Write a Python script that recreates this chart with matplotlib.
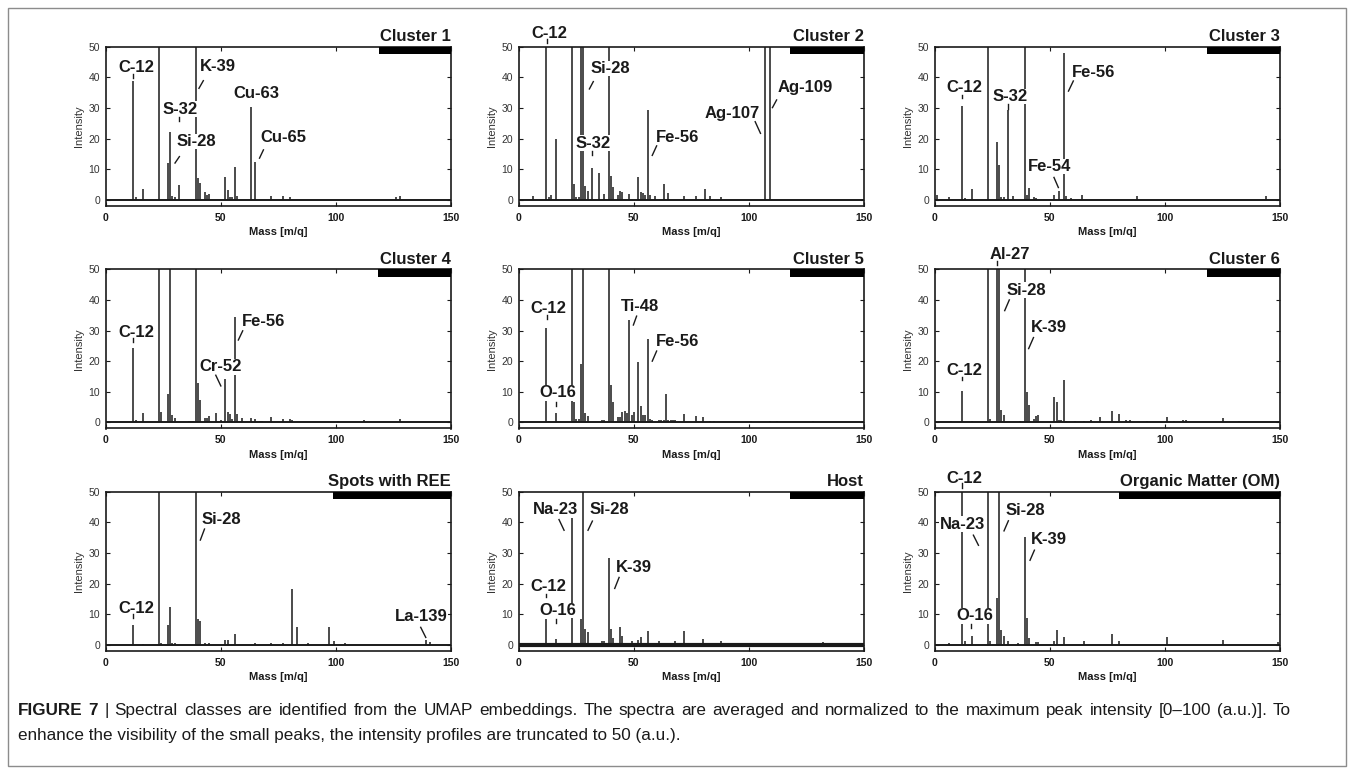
import matplotlib
matplotlib.use("Agg")
import matplotlib.pyplot as plt
from matplotlib.patches import Rectangle

plt.rcParams["font.family"] = ["Liberation Sans", "DejaVu Sans"]

# ---- data: peak m/q and averaged intensity (a.u., normalized 0-100, shown truncated at 50) ----
titles = ["Cluster 1", "Cluster 2", "Cluster 3",
          "Cluster 4", "Cluster 5", "Cluster 6",
          "Spots with REE", "Host", "Organic Matter (OM)"]

c1_mass = [12, 13, 16, 23, 27, 28, 29, 30, 32, 39, 40, 41, 43, 44, 45, 52, 53, 54, 55, 56, 57,
           63, 65, 72, 77, 80, 126, 128]
c1_int = [38.9, 0.8, 3.6, 100, 12.0, 22.0, 1.2, 0.8, 4.9, 85, 7.0, 5.5, 2.5, 1.5, 1.8, 7.5, 3.3, 1.0, 1.0,
          10.6, 1.2, 30.4, 12.3, 1.2, 1.3, 1.0, 1.0, 1.3]
c1_labels = ["C-12", "K-39", "S-32", "Si-28", "Cu-63", "Cu-65"]

c2_mass = [6, 12, 13, 14, 16, 23, 24, 25, 26, 27, 28, 29, 30, 32, 35, 37, 39, 40, 41, 43, 44, 45, 48,
           52, 53, 54, 55, 56, 57, 59, 63, 65, 72, 77, 81, 83, 88, 107, 109]
c2_int = [1.1, 80, 1.0, 1.5, 19.8, 100, 5.0, 0.8, 0.8, 70, 90, 4.5, 3.0, 10.3, 8.7, 2.0, 75, 7.7, 4.2,
          1.5, 3.0, 2.6, 1.8, 7.5, 2.5, 2.2, 1.5, 29.2, 1.5, 1.3, 5.2, 2.2, 1.3, 1.2, 3.6, 1.3, 1.0, 60, 55]
c2_labels = ["C-12", "Si-28", "S-32", "Fe-56", "Ag-107", "Ag-109"]

c3_mass = [1, 6, 12, 13, 16, 23, 27, 28, 29, 30, 32, 34, 39, 40, 41, 43, 44, 52, 54, 56, 57, 59, 64,
           88, 144]
c3_int = [1.5, 1.0, 30.7, 0.5, 3.4, 100, 18.8, 11.2, 0.8, 0.8, 29.3, 1.3, 80, 1.5, 3.7, 0.8, 0.6, 1.5,
          3.0, 47.8, 1.3, 0.6, 1.5, 1.2, 1.2]
c3_labels = ["C-12", "S-32", "Fe-56", "Fe-54"]

c4_mass = [12, 13, 16, 23, 24, 27, 28, 29, 30, 36, 37, 38, 39, 40, 41, 43, 44, 45, 48, 50, 52, 53, 54,
           55, 56, 57, 59, 63, 65, 67, 68, 72, 77, 80, 81, 101, 112, 128]
c4_int = [24.3, 0.8, 2.9, 100, 3.3, 9.2, 80, 2.4, 1.5, 0.3, 0.3, 0.3, 75, 12.7, 7.3, 1.5, 1.5, 2.0, 3.1,
          0.8, 14.3, 3.3, 2.7, 1.2, 34.5, 2.7, 1.5, 1.5, 1.2, 0.6, 0.6, 1.8, 1.2, 1.1, 0.8, 0.6, 0.8, 1.1]
c4_labels = ["C-12", "Cr-52", "Fe-56"]

c5_mass = [12, 13, 16, 23, 24, 25, 26, 27, 28, 29, 30, 36, 37, 39, 40, 41, 43, 44, 45, 46, 47, 48, 49,
           50, 52, 53, 54, 55, 56, 57, 58, 61, 62, 63, 64, 65, 66, 67, 68, 72, 77, 80, 83, 85, 101, 109,
           112, 128]
c5_int = [30.7, 0.6, 3.2, 100, 6.6, 1.2, 1.2, 19.0, 85, 3.1, 2.0, 0.9, 0.9, 80, 12.2, 6.5, 1.8, 1.8,
          3.4, 3.8, 3.2, 33.6, 2.3, 3.3, 19.8, 5.3, 2.3, 2.3, 27.1, 1.2, 0.8, 0.9, 0.9, 0.9, 9.4, 0.9,
          0.9, 0.9, 0.9, 2.6, 2.2, 1.9, 0.6, 0.6, 0.6, 0.5, 0.6, 0.4]
c5_labels = ["C-12", "O-16", "Ti-48", "Fe-56"]

c6_mass = [7, 12, 16, 23, 24, 27, 28, 29, 30, 37, 39, 40, 41, 43, 44, 45, 52, 53, 54, 55, 56, 57, 61,
           65, 68, 72, 77, 80, 83, 85, 92, 101, 104, 108, 109, 125, 132]
c6_int = [0.6, 10.2, 0.4, 100, 1.0, 90, 85, 4.0, 2.3, 0.6, 75, 9.8, 5.8, 1.0, 2.2, 2.5, 8.4, 6.6, 0.8,
          0.8, 14.0, 0.6, 0.5, 0.6, 0.9, 1.8, 3.8, 2.8, 0.8, 0.7, 0.5, 1.8, 0.6, 0.7, 0.7, 1.3, 0.6]
c6_labels = ["Al-27", "Si-28", "K-39", "C-12"]

ree_mass = [12, 16, 23, 24, 27, 28, 29, 30, 39, 40, 41, 43, 45, 52, 53, 56, 65, 72, 77, 81, 83, 88,
            97, 99, 104, 139, 141]
ree_int = [6.4, 0.4, 100, 0.5, 6.5, 12.3, 0.7, 0.7, 80, 8.5, 7.8, 0.7, 0.7, 1.6, 1.6, 3.5, 0.6, 0.6,
           0.6, 18.2, 5.8, 0.6, 5.8, 1.1, 0.6, 1.6, 0.8]
ree_labels = ["C-12", "Si-28", "La-139"]

host_mass = [12, 16, 23, 27, 28, 29, 30, 36, 37, 39, 40, 41, 44, 45, 49, 52, 53, 56, 61, 68, 72, 80,
             88, 132]
host_int = [8.5, 2.0, 41.4, 8.3, 100, 5.1, 4.1, 1.2, 1.2, 28.4, 5.2, 2.2, 5.9, 2.9, 1.1, 1.5, 2.7, 4.4,
            1.1, 1.1, 4.6, 2.0, 1.1, 1.0]
host_labels = ["Na-23", "Si-28", "C-12", "O-16", "K-39"]

om_mass = [6, 12, 13, 16, 23, 24, 27, 28, 29, 30, 32, 36, 39, 40, 41, 44, 45, 52, 53, 56, 65, 77, 80,
           101, 125, 149]
om_int = [0.5, 70, 1.3, 2.9, 80, 1.2, 15.3, 100, 4.9, 3.0, 1.1, 0.7, 35.1, 8.6, 2.2, 0.9, 0.9, 1.3,
          4.7, 2.7, 1.1, 3.4, 1.1, 2.4, 1.4, 0.8]
om_labels = ["C-12", "Na-23", "Si-28", "K-39", "O-16"]

masses = [c1_mass, c2_mass, c3_mass, c4_mass, c5_mass, c6_mass, ree_mass, host_mass, om_mass]
intensities = [c1_int, c2_int, c3_int, c4_int, c5_int, c6_int, ree_int, host_int, om_int]
labels = [c1_labels, c2_labels, c3_labels, c4_labels, c5_labels, c6_labels,
          ree_labels, host_labels, om_labels]

caption_bold = "FIGURE 7"
caption_line1 = ("| Spectral classes are identified from the UMAP embeddings. The spectra are averaged "
                 "and normalized to the maximum peak intensity [0\u2013100 (a.u.)]. To")
caption_line2 = ("enhance the visibility of the small peaks, the intensity profiles are truncated "
                 "to 50 (a.u.).")

# ---- layout: label centre (x, y) and leader line (x0, y0, x1, y1) in data coords ----
label_layout = [
    [(13.3, 43.2, (12.0, 39.9, 12.0, 41.0)), (48.8, 43.5, (42.4, 38.9, 40.5, 36.4)),
     (32.1, 29.6, (31.9, 25.8, 31.9, 27.2)), (39.4, 19.0, (32.0, 14.1, 30.1, 12.0)),
     (65.5, 34.8, None), (77.3, 20.4, (68.5, 16.3, 66.8, 13.6))],
    [(13.2, 54.3, (12.2, 51.1, 12.2, 52.5)), (39.6, 42.9, (32.4, 38.6, 30.7, 36.2)),
     (32.4, 18.5, (31.8, 14.5, 31.8, 15.8)), (69.1, 20.3, (59.9, 17.6, 58.0, 14.5)),
     (92.9, 28.3, (102.7, 25.5, 105.0, 21.7)), (124.4, 36.6, (112.0, 32.6, 110.2, 30.1))],
    [(13.0, 36.6, (12.0, 33.2, 12.0, 34.2)), (32.7, 33.7, (31.9, 29.8, 31.9, 31.2)),
     (68.9, 41.6, (60.2, 38.8, 58.1, 35.5)), (49.7, 10.9, (51.8, 7.3, 53.7, 4.0))],
    [(13.3, 29.3, (12.0, 26.2, 12.0, 27.5)), (49.8, 18.1, (47.8, 15.4, 50.0, 11.9)),
     (68.5, 33.1, (59.5, 29.9, 57.6, 26.9))],
    [(13.0, 37.2, (12.2, 33.7, 12.2, 35.0)), (17.2, 9.7, (16.1, 5.3, 16.1, 6.7)),
     (52.7, 38.0, (51.2, 34.7, 49.8, 31.8)), (68.9, 26.3, (59.9, 23.3, 58.0, 20.0))],
    [(32.7, 54.7, (26.9, 51.4, 26.9, 52.8)), (39.7, 43.2, (32.4, 40.0, 30.4, 36.5)),
     (49.4, 31.0, (42.9, 27.7, 40.8, 24.1)), (13.0, 17.0, (12.0, 13.8, 12.0, 14.8))],
    [(13.3, 11.7, (12.0, 8.7, 12.0, 10.0)), (50.2, 41.0, (42.9, 37.8, 41.1, 34.2)),
     (137.1, 9.2, (136.8, 5.7, 139.0, 2.4))],
    [(16.1, 44.2, (17.5, 40.9, 19.7, 37.4)), (39.4, 44.2, (32.0, 40.4, 30.1, 37.4)),
     (12.9, 18.9, (12.0, 15.6, 12.0, 16.7)), (17.0, 11.2, (16.0, 7.0, 16.0, 8.4)),
     (50.1, 25.3, (43.6, 22.0, 41.7, 18.4))],
    [(13.0, 54.4, (12.0, 51.3, 12.0, 52.7)), (11.9, 39.4, (16.8, 35.8, 19.0, 32.5)),
     (39.2, 44.0, (32.0, 40.5, 30.1, 37.2)), (49.7, 34.5, (43.3, 30.9, 41.4, 27.6)),
     (17.5, 9.5, (15.9, 5.4, 15.9, 6.8))],
]
bar_start = [118.5, 118.0, 118.4, 118.4, 118.0, 118.4, 98.5, 118.0, 80.0]

W, H = 1354, 773
col_left = [105.7, 518.7, 934.7]
row_top = [46.7, 269.3, 491.7]
ax_w, ax_h = 345.4, 159.2
ink = "#1a1a1a"

fig = plt.figure(figsize=(W / 100, H / 100), dpi=100)

for i in range(9):
    r, c = divmod(i, 3)
    ax = fig.add_axes([col_left[c] / W, 1 - (row_top[r] + ax_h) / H, ax_w / W, ax_h / H])
    ax.set_xlim(0, 150)
    ax.set_ylim(-2, 50)

    ax.vlines(masses[i], 0, intensities[i], color=ink, lw=1.1, zorder=2)
    base_lw = 3.0 if titles[i] == "Host" else 1.4
    ax.axhline(0, color=ink, lw=base_lw, zorder=2)
    ax.add_patch(Rectangle((bar_start[i], 47.6), 150 - bar_start[i], 2.4,
                           color="black", lw=0, zorder=3))

    for name, (tx, ty, lead) in zip(labels[i], label_layout[i]):
        ax.text(tx, ty, name, ha="center", va="center", fontsize=12, fontweight="bold",
                color=ink, zorder=5, clip_on=False,
                bbox=dict(facecolor="white", edgecolor="none", pad=0.3))
        if lead is not None:
            ax.plot([lead[0], lead[2]], [lead[1], lead[3]], color=ink, lw=1.0,
                    zorder=6, clip_on=False)

    ax.set_title(titles[i], loc="right", fontsize=12, fontweight="bold", pad=4, color=ink)
    ax.set_xticks([0, 50, 100, 150])
    ax.set_yticks(range(0, 51, 10))
    ax.tick_params(direction="in", top=True, right=True, length=3, width=0.8,
                   labelsize=7.5, colors=ink)
    ax.tick_params(axis="x", pad=5)
    ax.tick_params(axis="y", pad=4, labelcolor="#333333")
    for lbl in ax.get_xticklabels():
        lbl.set_fontweight("bold")
    ax.set_xlabel("Mass [m/q]", fontsize=8, fontweight="bold", labelpad=3, color=ink)
    ax.set_ylabel("Intensity", fontsize=8, labelpad=3, color="#333333")
    for sp in ax.spines.values():
        sp.set_linewidth(1.2)
        sp.set_color(ink)

# outer frame around figure and caption
fig.add_artist(Rectangle((8 / W, 1 - 766 / H), (1346 - 8) / W, (766 - 8) / H,
                         transform=fig.transFigure, fill=False, edgecolor="#8c8c8c", lw=1))

# caption: first line justified to the right margin, last line ragged
cap_size = 12.3
renderer = fig.canvas.get_renderer()
fig.text(18 / W, 1 - 740 / H, caption_line2, fontsize=cap_size, va="baseline", color=ink)

tokens = [(w, "bold") for w in caption_bold.split()] + [(w, "normal") for w in caption_line1.split()]
word_artists = []
for word, weight in tokens:
    t = fig.text(0, 1 - 715 / H, word, fontsize=cap_size, fontweight=weight,
                 va="baseline", color=ink)
    word_artists.append(t)
widths = [t.get_window_extent(renderer).width for t in word_artists]
gap = (1291 - 18 - sum(widths)) / (len(widths) - 1)
x = 18.0
for t, w in zip(word_artists, widths):
    t.set_x(x / W)
    x += w + gap

fig.savefig("out.png", dpi=100)
